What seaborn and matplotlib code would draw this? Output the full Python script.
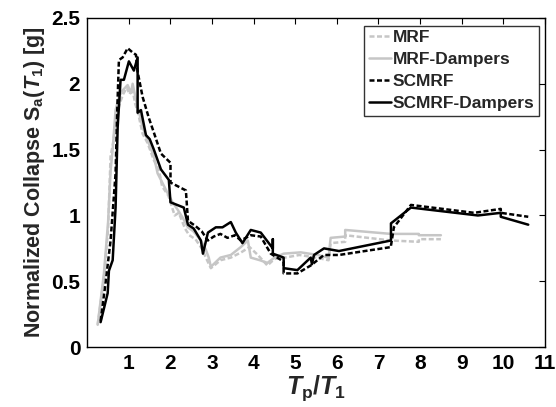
import numpy as np
import pandas as pd
import matplotlib
matplotlib.use("Agg")
import matplotlib.pyplot as plt
import seaborn as sns

# ---- data ----
mrf_x = [0.25, 0.40, 0.50, 0.56, 0.62, 0.70, 0.78, 0.86, 0.95, 1.02, 1.08, 1.15, 1.22, 1.33, 1.45, 1.60, 1.72,
         1.80, 1.95, 2.10, 2.20, 2.35, 2.45, 2.60, 2.75, 2.88, 2.97, 3.05, 3.20, 3.45, 3.70, 3.90, 4.10, 4.33,
         4.50, 4.75, 5.10, 5.50, 5.80, 5.85, 6.20, 6.20, 7.30, 7.97, 7.97, 8.50]
mrf_y = [0.17, 0.52, 0.90, 1.45, 1.55, 1.75, 1.85, 1.92, 1.97, 1.92, 1.97, 1.85, 1.78, 1.62, 1.55, 1.42, 1.35,
         1.22, 1.15, 1.00, 1.02, 0.90, 0.85, 0.82, 0.75, 0.66, 0.60, 0.62, 0.66, 0.68, 0.72, 0.76, 0.70, 0.62,
         0.67, 0.68, 0.70, 0.68, 0.66, 0.79, 0.80, 0.85, 0.81, 0.80, 0.82, 0.82]

mrfd_x = [0.25, 0.40, 0.50, 0.56, 0.61, 0.68, 0.76, 0.85, 0.97, 1.05, 1.09, 1.17, 1.33, 1.45, 1.60, 1.69,
          1.77, 1.93, 2.05, 2.18, 2.30, 2.42, 2.55, 2.73, 2.85, 2.92, 2.97, 3.20, 3.45, 3.69, 3.86, 3.93,
          4.15, 4.33, 4.50, 4.72, 5.13, 5.54, 5.80, 5.85, 6.20, 6.20, 7.30, 7.97, 7.97, 8.50]
mrfd_y = [0.17, 0.56, 0.95, 1.34, 1.50, 1.80, 1.90, 1.95, 1.99, 1.93, 2.00, 1.88, 1.67, 1.57, 1.45, 1.32,
          1.27, 1.17, 1.10, 1.04, 0.98, 0.91, 0.88, 0.81, 0.74, 0.68, 0.61, 0.68, 0.70, 0.76, 0.81, 0.68,
          0.66, 0.64, 0.68, 0.71, 0.72, 0.70, 0.68, 0.83, 0.84, 0.89, 0.86, 0.86, 0.85, 0.85]

sc_x = [0.32, 0.44, 0.56, 0.68, 0.72, 0.76, 0.85, 0.97, 1.08, 1.17, 1.21, 1.33, 1.48, 1.60, 1.77, 2.00, 2.00,
        2.37, 2.42, 2.60, 2.75, 2.90, 3.04, 3.20, 3.37, 3.55, 3.69, 3.93, 4.17, 4.41, 4.72, 4.72, 5.05, 5.37,
        5.69, 6.05, 7.30, 7.30, 7.37, 7.78, 9.30, 9.94, 9.94, 10.60]
sc_y = [0.20, 0.49, 0.81, 1.32, 1.80, 2.18, 2.20, 2.27, 2.24, 2.22, 2.09, 1.90, 1.74, 1.63, 1.47, 1.40, 1.25,
        1.19, 0.96, 0.92, 0.88, 0.81, 0.84, 0.86, 0.83, 0.85, 0.81, 0.85, 0.84, 0.71, 0.65, 0.56, 0.56, 0.62,
        0.70, 0.70, 0.76, 0.77, 0.91, 1.08, 1.02, 1.05, 1.02, 0.99]

scd_x = [0.32, 0.49, 0.52, 0.61, 0.68, 0.73, 0.80, 0.88, 1.00, 1.12, 1.21, 1.21, 1.29, 1.41, 1.50, 1.60,
         1.77, 1.96, 2.00, 2.32, 2.42, 2.56, 2.73, 2.78, 2.90, 3.09, 3.25, 3.45, 3.57, 3.73, 3.93, 4.17,
         4.46, 4.46, 4.46, 4.72, 4.72, 5.05, 5.37, 5.40, 5.45, 5.69, 6.05, 7.30, 7.30, 7.78, 9.39, 9.94,
         9.94, 10.60]
scd_y = [0.19, 0.41, 0.58, 0.66, 1.06, 1.67, 2.03, 2.03, 2.17, 2.10, 2.20, 1.78, 1.80, 1.61, 1.58, 1.50,
         1.35, 1.27, 1.10, 1.06, 0.93, 0.90, 0.81, 0.71, 0.87, 0.91, 0.91, 0.95, 0.87, 0.79, 0.89, 0.87,
         0.75, 0.82, 0.71, 0.68, 0.60, 0.585, 0.68, 0.63, 0.70, 0.75, 0.73, 0.81, 0.94, 1.06, 1.00, 1.02,
         0.99, 0.93]

labels = ["MRF", "MRF-Dampers", "SCMRF", "SCMRF-Dampers"]
xs = [mrf_x, mrfd_x, sc_x, scd_x]
ys = [mrf_y, mrfd_y, sc_y, scd_y]

frames = []
for lab, x, y in zip(labels, xs, ys):
    frames.append(pd.DataFrame({"x": x, "y": y, "series": lab, "order": np.arange(len(x))}))
df = pd.concat(frames, ignore_index=True)

sns.set_style("white")
plt.rcParams["font.family"] = ["Liberation Sans", "DejaVu Sans"]
plt.rcParams["font.weight"] = "bold"
plt.rcParams["mathtext.fontset"] = "custom"
plt.rcParams["mathtext.rm"] = "Liberation Sans:bold"
plt.rcParams["mathtext.it"] = "Liberation Sans:bold:italic"
plt.rcParams["mathtext.bf"] = "Liberation Sans:bold"

fig = plt.figure(figsize=(5.56, 4.07), dpi=100)
ax = fig.add_axes([0.157, 0.147, 0.823, 0.809])

grey = "#c6c6c6"
palette = {"MRF": grey, "MRF-Dampers": grey, "SCMRF": "black", "SCMRF-Dampers": "black"}
dashes = {"MRF": (2, 1), "MRF-Dampers": "", "SCMRF": (2, 1), "SCMRF-Dampers": ""}
sns.lineplot(data=df, x="x", y="y", hue="series", style="series", palette=palette,
             dashes=dashes, hue_order=labels, style_order=labels, sort=False,
             estimator=None, units="series", lw=1.8, ax=ax, legend="full")

ax.set_xlim(0, 11)
ax.set_ylim(0, 2.5)
ax.set_xticks(range(1, 12))
ax.set_xticklabels([str(i) for i in range(1, 12)])
ax.set_yticks([0, 0.5, 1, 1.5, 2, 2.5])
ax.set_yticklabels(["0", "0.5", "1", "1.5", "2", "2.5"])
ax.tick_params(direction="in", length=4, width=0.8, top=True, right=True,
               labelsize=15, colors="black", pad=5)
for t in ax.get_xticklabels() + ax.get_yticklabels():
    t.set_fontweight("bold")
for s in ax.spines.values():
    s.set_color("black")
    s.set_linewidth(1.0)

ax.set_xlabel(r"$\mathit{T}_\mathrm{p}/\mathit{T}_\mathrm{1}$", fontsize=18, labelpad=0)
ax.set_ylabel(r"Normalized Collapse $\mathrm{S}_\mathrm{a}(\mathit{T}_\mathrm{1})$ [g]",
              fontsize=15.5, fontweight="bold", labelpad=3)

leg = ax.legend(loc="upper right", bbox_to_anchor=(0.995, 0.987), frameon=True, fancybox=False,
                edgecolor="black", fontsize=12.5, handlelength=1.3, handletextpad=0.1,
                borderpad=0.25, labelspacing=0.4, borderaxespad=0.2)
leg.get_frame().set_linewidth(1.0)
for t in leg.get_texts():
    t.set_fontweight("bold")

fig.savefig("out.png", dpi=100)
